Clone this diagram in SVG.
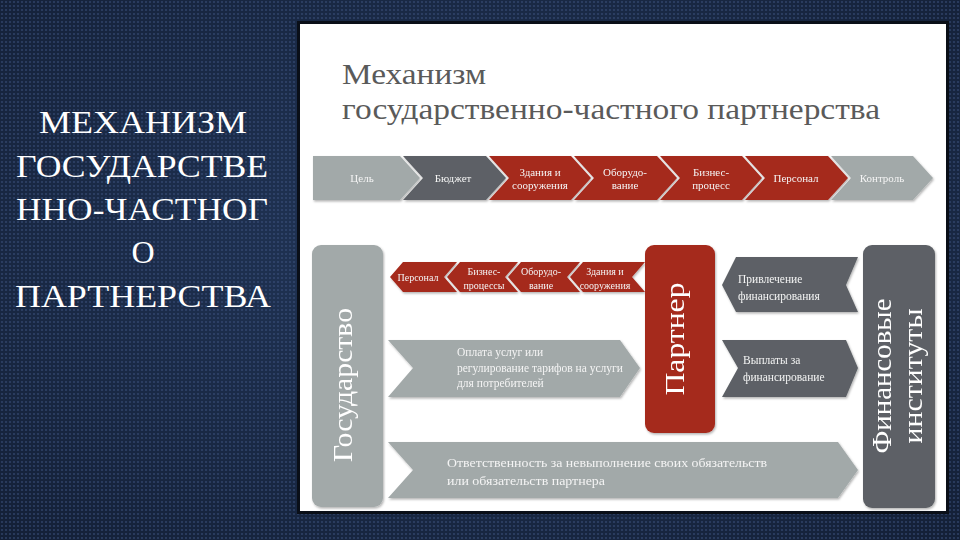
<svg xmlns="http://www.w3.org/2000/svg" width="960" height="540" viewBox="0 0 960 540">
<defs>
<radialGradient id="bg" cx="50%" cy="45%" r="75%">
<stop offset="0" stop-color="#22375a"/>
<stop offset="1" stop-color="#131f36"/>
</radialGradient>
<pattern id="dots" width="4" height="4" patternUnits="userSpaceOnUse">
<circle cx="2" cy="2" r="1.1" fill="#3d5480" opacity="0.6"/>
</pattern>
<filter id="sh" x="-5%" y="-10%" width="110%" height="125%">
<feDropShadow dx="1" dy="1.5" stdDeviation="1" flood-color="#000" flood-opacity="0.3"/>
</filter>
<style>
.ttl{font-family:"Liberation Serif","DejaVu Serif",serif;fill:#ffffff;font-size:32px;text-anchor:middle}
.hd{font-family:"Liberation Serif","DejaVu Serif",serif;fill:#5a5a5a;font-size:30px}
.t{font-family:"Liberation Serif","DejaVu Serif",serif;fill:#f4f4f4;font-size:11px;text-anchor:middle}
.s{font-family:"Liberation Serif","DejaVu Serif",serif;fill:#f4f4f4;font-size:10px;text-anchor:middle}
.l{font-family:"Liberation Serif","DejaVu Serif",serif;fill:#f4f4f4;font-size:11.5px}
.big{font-family:"Liberation Serif","DejaVu Serif",serif;fill:#ffffff;font-size:27px;text-anchor:middle}
.lg{fill:#a2a9a9}
.dg{fill:#5d6166}
.rd{fill:#a5291c}
</style>
</defs>
<rect width="960" height="540" fill="url(#bg)"/>
<rect width="960" height="540" fill="url(#dots)"/>

<g id="slide-title">
<text class="ttl" x="143" y="133" textLength="208" lengthAdjust="spacingAndGlyphs">МЕХАНИЗМ</text>
<text class="ttl" x="142" y="177" textLength="252" lengthAdjust="spacingAndGlyphs">ГОСУДАРСТВЕ</text>
<text class="ttl" x="142" y="220" textLength="252" lengthAdjust="spacingAndGlyphs">ННО-ЧАСТНОГ</text>
<text class="ttl" x="143" y="263">О</text>
<text class="ttl" x="143" y="307" textLength="256" lengthAdjust="spacingAndGlyphs">ПАРТНЕРСТВА</text>
</g>

<rect x="297" y="21" width="652" height="493" fill="#0a0f18"/>
<rect x="300" y="24" width="646" height="487" fill="#ffffff"/>

<g id="heading">
<text class="hd" x="342" y="84" textLength="144" lengthAdjust="spacingAndGlyphs">Механизм</text>
<text class="hd" x="342" y="119" textLength="538" lengthAdjust="spacingAndGlyphs">государственно-частного партнерства</text>
</g>

<g id="chain" filter="url(#sh)">
<g id="c-goal"><polygon class="lg" points="313,156 400,156 420,178 400,200 313,200"/><text class="t" x="362" y="182">Цель</text></g>
<g id="c-budget"><polygon class="dg" points="403,156 486,156 506,178 486,200 403,200 423,178"/><text class="t" x="453" y="182">Бюджет</text></g>
<g id="c-build"><polygon class="rd" points="489,156 571,156 591,178 571,200 489,200 509,178"/><text class="t" x="540" y="176">Здания и</text><text class="t" x="540" y="189">сооружения</text></g>
<g id="c-equip"><polygon class="rd" points="574,156 657,156 677,178 657,200 574,200 594,178"/><text class="t" x="625" y="176">Оборудо-</text><text class="t" x="625" y="189">вание</text></g>
<g id="c-biz"><polygon class="rd" points="660,156 742,156 762,178 742,200 660,200 680,178"/><text class="t" x="711" y="176">Бизнес-</text><text class="t" x="711" y="189">процесс</text></g>
<g id="c-staff"><polygon class="rd" points="745,156 828,156 848,178 828,200 745,200 765,178"/><text class="t" x="796" y="182">Персонал</text></g>
<g id="c-control"><polygon class="lg" points="831,156 913,156 933,178 913,200 831,200 851,178"/><text class="t" x="882" y="182">Контроль</text></g>
</g>

<g id="connectors" filter="url(#sh)">
<g id="p-staff"><polygon class="rd" points="390,277 403,262 457,262 444,277 457,292 403,292"/><text class="s" x="418" y="281">Персонал</text></g>
<g id="p-biz"><polygon class="rd" points="447,277 460,262 518,262 505,277 518,292 460,292"/><text class="s" x="484" y="275">Бизнес-</text><text class="s" x="484" y="289">процессы</text></g>
<g id="p-equip"><polygon class="rd" points="508,277 521,262 580,262 567,277 580,292 521,292"/><text class="s" x="541" y="275">Оборудо-</text><text class="s" x="541" y="289">вание</text></g>
<g id="p-build"><polygon class="rd" points="570,277 583,262 645,262 632,277 645,292 583,292"/><text class="s" x="605" y="275">Здания и</text><text class="s" x="605" y="289">сооружения</text></g>
<g id="a-pay"><polygon class="lg" points="388,340 620,340 640,368 620,397 388,397 413,368"/><text class="l" x="457" y="356">Оплата услуг или</text><text class="l" x="457" y="372">регулирование тарифов на услуги</text><text class="l" x="457" y="387">для потребителей</text></g>
<g id="a-attract"><polygon class="dg" points="722,285 736,257 858,257 846,285 858,312 736,312"/><text class="l" x="738" y="283">Привлечение</text><text class="l" x="738" y="300">финансирования</text></g>
<g id="a-repay"><polygon class="dg" points="722,340 846,340 858,368 846,397 722,397 738,368"/><text class="l" x="743" y="364">Выплаты за</text><text class="l" x="743" y="381">финансирование</text></g>
<g id="a-resp"><polygon class="lg" points="388,442 838,442 858,470 838,498 388,498 413,470"/><text class="l" x="447" y="467" textLength="320" lengthAdjust="spacingAndGlyphs">Ответственность за невыполнение своих обязательств</text><text class="l" x="447" y="485" textLength="158" lengthAdjust="spacingAndGlyphs">или обязательств партнера</text></g>
</g>

<g id="state" filter="url(#sh)">
<rect class="lg" x="312" y="245" width="71" height="262" rx="9"/>
<text class="big" transform="translate(352,385) rotate(-90)" textLength="154" lengthAdjust="spacingAndGlyphs">Государство</text>
</g>
<g id="partner" filter="url(#sh)">
<rect class="rd" x="645" y="245" width="70" height="188" rx="9"/>
<text class="big" transform="translate(684,339) rotate(-90)" textLength="113" lengthAdjust="spacingAndGlyphs">Партнер</text>
</g>
<g id="fin" filter="url(#sh)">
<rect class="dg" x="863" y="245" width="72" height="263" rx="9"/>
<text class="big" transform="translate(891,376) rotate(-90)" textLength="155" lengthAdjust="spacingAndGlyphs">Финансовые</text>
<text class="big" transform="translate(922,376) rotate(-90)" textLength="135" lengthAdjust="spacingAndGlyphs">институты</text>
</g>
</svg>
